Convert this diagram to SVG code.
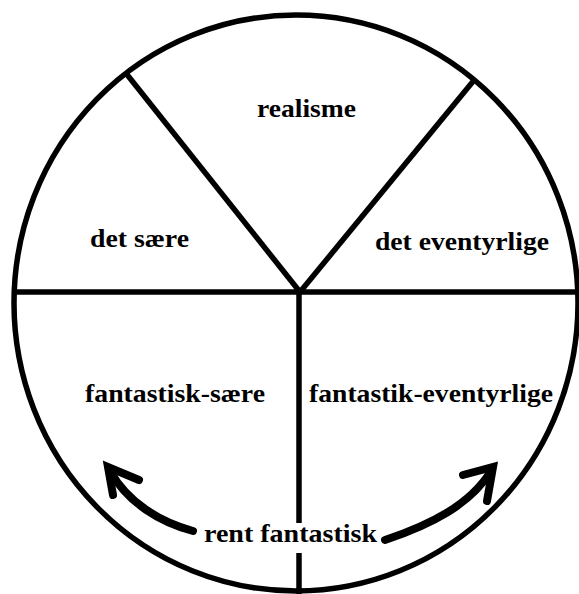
<svg xmlns="http://www.w3.org/2000/svg" width="579" height="594" viewBox="0 0 579 594">
<style>
.ln{fill:none;stroke:#000;stroke-width:5.5}
.ar{fill:none;stroke:#000;stroke-width:8;stroke-linecap:round;stroke-linejoin:miter}
.lb{font-family:"Liberation Serif","DejaVu Serif",serif;font-weight:bold;font-size:25px;fill:#000;text-anchor:start}
</style>
<rect width="579" height="594" fill="#fff"/>
<g id="frame">
<ellipse class="ln" cx="296" cy="303" rx="282" ry="288"/>
</g>
<g id="connectors">
<line class="ln" x1="12" y1="292" x2="579" y2="292"/>
<line class="ln" x1="125" y1="72" x2="300" y2="292"/>
<line class="ln" x1="475" y1="79" x2="300" y2="292"/>
<line class="ln" x1="299" y1="292" x2="299" y2="523"/>
<line class="ln" x1="299" y1="553" x2="299" y2="594"/>
<path class="ar" d="M193,531 C160,522 128,503 110,471"/>
<polyline class="ar" points="139,480 108,467 113,495"/>
<path class="ar" d="M385,540 C430,525 470,505 491,471"/>
<polyline class="ar" points="463,475 493,467 487,501"/>
</g>
<g id="realisme"><text class="lb" x="257" y="117" textLength="99" lengthAdjust="spacingAndGlyphs">realisme</text></g>
<g id="det-saere"><text class="lb" x="90" y="247" textLength="99" lengthAdjust="spacingAndGlyphs">det sære</text></g>
<g id="det-eventyrlige"><text class="lb" x="375" y="250" textLength="174" lengthAdjust="spacingAndGlyphs">det eventyrlige</text></g>
<g id="fantastisk-saere"><text class="lb" x="85" y="402" textLength="180" lengthAdjust="spacingAndGlyphs">fantastisk-sære</text></g>
<g id="fantastik-eventyrlige"><text class="lb" x="309" y="402" textLength="244" lengthAdjust="spacingAndGlyphs">fantastik-eventyrlige</text></g>
<g id="rent-fantastisk"><text class="lb" x="204" y="542" textLength="173" lengthAdjust="spacingAndGlyphs">rent fantastisk</text></g>
</svg>
